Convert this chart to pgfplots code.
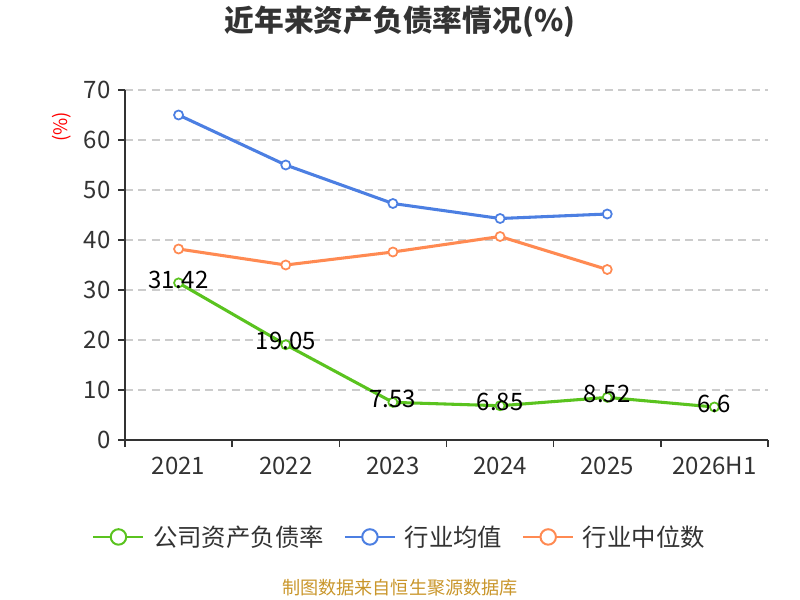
\documentclass[border=0pt]{standalone}
\usepackage{pgfplots}
\pgfplotsset{compat=1.18}
\usepackage{fontspec}
\setmainfont{Noto Sans CJK SC}
\definecolor{cgreen}{HTML}{5AC31F}
\definecolor{cblue}{HTML}{4C7FE2}
\definecolor{corange}{HTML}{FF8A52}
\definecolor{ctext}{HTML}{333333}
\definecolor{cgrid}{HTML}{CCCCCC}
\definecolor{cfoot}{HTML}{C9962B}
\begin{document}
\begin{tikzpicture}[x=0.75pt,y=0.75pt]
\path[use as bounding box] (0,0) rectangle (800,600);
\begin{axis}[
  at={(93.75pt,120pt)}, anchor=south west,
  scale only axis, width=482.25pt, height=262.5pt,
  xmin=-0.5, xmax=5.5, ymin=0, ymax=70,
  axis lines=left,
  axis line style={-, color=ctext, line width=1.1pt},
  xtick={-0.5,0.5,1.5,2.5,3.5,4.5,5.5},
  xticklabels={},
  extra x ticks={0,1,2,3,4,5},
  extra x tick labels={2021,2022,2023,2024,2025,2026H1},
  extra x tick style={major tick length=0pt, xticklabel style={yshift=-9pt}},
  ytick={0,10,20,30,40,50,60,70},
  tick align=outside,
  major tick length=5.25pt,
  tick style={draw=ctext, line width=1.1pt},
  ymajorgrids,
  grid style={cgrid, line width=1pt, dash pattern=on 6pt off 4pt},
  /pgf/number format/assume math mode=true,
  ticklabel style={font=\fontsize{18}{21}\selectfont, text=ctext},
  yticklabel style={xshift=-2pt},
  clip=false,
  legend columns=3,
  legend style={at={(0.4277,-0.277)}, anchor=center, draw=none, fill=none,
    font=\fontsize{18.3}{21}\selectfont, text=ctext,
    /tikz/every odd column/.append style={column sep=4.5pt},
    /tikz/every even column/.append style={column sep=13pt}},
  legend cell align=left,
]
\addplot[cgreen, line width=2.3pt, mark=*, mark size=3.4pt,
  mark options={fill=white, draw=cgreen, line width=1.3pt},
  nodes near coords, point meta=explicit symbolic,
  every node near coord/.append style={anchor=center, yshift=2.5pt, text=black, font=\fontsize{18}{21}\selectfont},
  legend image code/.code={\draw[cgreen, line width=1.5pt] (0pt,0pt) -- (37.5pt,0pt);
     \draw[cgreen, fill=white, line width=1.5pt] (18.75pt,0pt) circle (5.8pt);}]
coordinates {(0,31.42)[31.42] (1,19.05)[19.05] (2,7.53)[7.53] (3,6.85)[6.85] (4,8.52)[8.52] (5,6.6)[6.6]};
\addlegendentry{公司资产负债率}
\addplot[cblue, line width=2.3pt, mark=*, mark size=3.4pt,
  mark options={fill=white, draw=cblue, line width=1.3pt},
  legend image code/.code={\draw[cblue, line width=1.5pt] (0pt,0pt) -- (37.5pt,0pt);
     \draw[cblue, fill=white, line width=1.5pt] (18.75pt,0pt) circle (5.8pt);}]
coordinates {(0,65.0) (1,55.0) (2,47.3) (3,44.3) (4,45.2)};
\addlegendentry{行业均值}
\addplot[corange, line width=2.3pt, mark=*, mark size=3.4pt,
  mark options={fill=white, draw=corange, line width=1.3pt},
  legend image code/.code={\draw[corange, line width=1.5pt] (0pt,0pt) -- (37.5pt,0pt);
     \draw[corange, fill=white, line width=1.5pt] (18.75pt,0pt) circle (5.8pt);}]
coordinates {(0,38.2) (1,35.0) (2,37.6) (3,40.7) (4,34.1)};
\addlegendentry{行业中位数}
\end{axis}
\node[font=\fontsize{22.3}{26}\selectfont\bfseries, text=ctext] at (400,578) {近年来资产负债率情况(\%)};
\node[font=\fontsize{14}{16}\selectfont, text=red, rotate=90] at (62,473) {(\%)};
\node[font=\fontsize{13.6}{16}\selectfont, text=cfoot] at (400,12) {制图数据来自恒生聚源数据库};
\end{tikzpicture}
\end{document}
